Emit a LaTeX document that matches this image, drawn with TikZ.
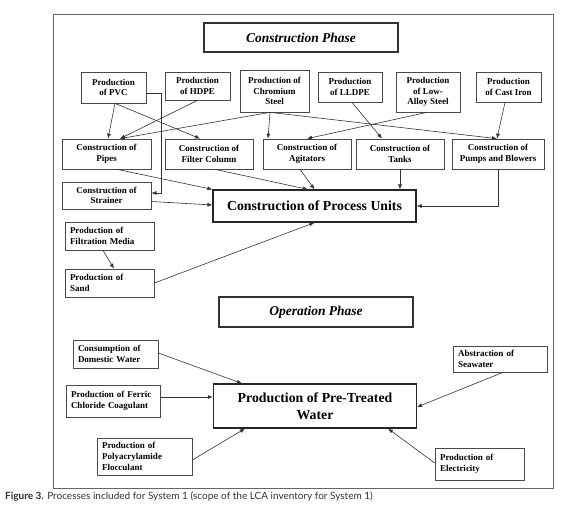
\documentclass[tikz,border=0pt]{standalone}
\usepackage{fontspec}
\setmainfont{Liberation Serif}
\newfontfamily\capfont{Lato}
\usetikzlibrary{arrows.meta,positioning,calc}
\definecolor{boxline}{HTML}{4A4A4A}
\definecolor{capgray}{HTML}{333333}

\begin{document}
\begin{tikzpicture}[
  x=1pt, y=-1pt,
  every node/.style={font=\fontsize{9}{10.7}\selectfont\bfseries},
  box/.style={draw=boxline, line width=0.7pt, inner sep=0pt, align=center},
  lbox/.style={draw=boxline, line width=0.7pt, inner xsep=5pt, inner ysep=0pt, align=left},
  phase/.style={draw=black!80, line width=1.2pt, inner sep=0pt, minimum width=194pt, minimum height=29pt, font=\fontsize{13.5}{16}\selectfont\bfseries\itshape},
  mainbox/.style={draw=black!85, line width=1.2pt, inner sep=0pt, minimum width=203pt, align=center, font=\fontsize{13.8}{17.5}\selectfont\bfseries},
  arrow/.style={-{Latex[length=5pt,width=4pt]}, line width=0.6pt, black!80}
]
\useasboundingbox (0,0) rectangle (580,510);
% ---------- Outer frame ----------
\draw[black!60, line width=0.7pt] (53,14) rectangle (553,488);

% ---------- Construction phase ----------
\node[phase] (cphase) at (301,37.5) {Construction Phase};
% raw materials
\node[box, minimum width=65pt, minimum height=31pt] (pvc) at (113.5,87.5) {Production\\of PVC};
\node[box, minimum width=65pt, minimum height=28pt] (hdpe) at (197.5,86) {Production\\of HDPE};
\node[box, minimum width=69pt, minimum height=42pt] (chrom) at (274.5,91) {Production of\\Chromium\\Steel};
\node[box, minimum width=64pt, minimum height=30pt] (lldpe) at (350,87) {Production\\of LLDPE};
\node[box, minimum width=64pt, minimum height=40pt] (lowalloy) at (428,92) {Production\\of Low-\\Alloy Steel};
\node[box, minimum width=65pt, minimum height=30pt] (castiron) at (508.5,87) {Production\\of Cast Iron};
% components
\node[box, minimum width=89pt, minimum height=30pt] (pipes) at (106.5,154) {Construction of\\Pipes};
\node[box, minimum width=88pt, minimum height=30pt] (filtercol) at (209,154) {Construction of\\Filter Column};
\node[box, minimum width=88pt, minimum height=30pt] (agit) at (307,154) {Construction of\\Agitators};
\node[box, minimum width=88pt, minimum height=30pt] (tanks) at (400,154) {Construction of\\Tanks};
\node[box, minimum width=92pt, minimum height=30pt] (pumps) at (498,154) {Construction of\\Pumps and Blowers};
\node[box, minimum width=89pt, minimum height=27pt] (strainer) at (106.5,195.5) {Construction of\\Strainer};
\node[mainbox, minimum height=32pt] (units) at (314.5,206) {Construction of Process Units};
% filter media
\node[lbox, text width=79pt, minimum height=28pt] (media) at (109.5,236) {Production of\\Filtration Media};
\node[lbox, text width=79pt, minimum height=28pt] (sand) at (109.5,283) {Production of\\Sand};

% ---------- Operation phase ----------
\node[phase, minimum height=30pt] (ophase) at (316,312) {Operation Phase};
\node[lbox, text width=75pt, minimum height=28pt] (domestic) at (115.5,354) {Consumption of\\Domestic Water};
\node[lbox, text width=84pt, minimum height=32pt] (ferric) at (113,401) {Production of Ferric\\Chloride Coagulant};
\node[lbox, text width=85pt, minimum height=37pt] (poly) at (144.5,456.5) {Production of\\Polyacrylamide\\Flocculant};
\node[mainbox, minimum height=44pt] (ptw) at (315,406) {Production of Pre-Treated\\Water};
\node[lbox, text width=84pt, minimum height=26pt] (seawater) at (500,359) {Abstraction of\\Seawater};
\node[lbox, text width=79pt, minimum height=32pt] (elec) at (479.5,464) {Production of\\Electricity};

% ---------- Construction edges ----------
\draw[arrow] ([xshift=1.5pt]pvc.south) -- ([xshift=1.5pt]pipes.north);
\draw[arrow] ([xshift=1.5pt]pvc.south) -- ([xshift=-9pt]filtercol.north);
\draw[arrow] ([yshift=-5.5pt]pvc.east) -- ++(15,0) |- ([yshift=2.5pt]strainer.east);
\draw[arrow] (hdpe.south) -- ([xshift=13.5pt]pipes.north);
\draw[arrow] ([xshift=-4.5pt]chrom.south) -- ([xshift=13.5pt]pipes.north);
\draw[arrow] ([xshift=-4.5pt]chrom.south) -- ([xshift=-39pt]agit.north);
\draw[arrow] ([xshift=-4.5pt]chrom.south) -- ([xshift=-1pt]pumps.north);
\draw[arrow] ([xshift=2pt]lldpe.south) -- ([xshift=-18pt]tanks.north);
\draw[arrow] ([xshift=-1pt]lowalloy.south) -- (agit.north);
\draw[arrow] ([xshift=-3.5pt]castiron.south) -- ([xshift=-1pt]pumps.north);
% components -> process units
\draw[arrow] ([xshift=10.5pt]pipes.south) -- (units.north west);
\draw[arrow] ([xshift=6pt]filtercol.south) -- ([xshift=-6.5pt]units.north);
\draw[arrow] ([xshift=-7pt]agit.south) -- (units.north);
\draw[arrow] (tanks.south) -- (tanks.south |- units.north);
\draw[arrow] (pumps.south) |- (units.east);
\draw[arrow] ([yshift=-6pt]strainer.east) -- ([yshift=1pt]units.west);
\draw[arrow] ([xshift=-6.5pt]media.south) -- ([xshift=4.5pt]sand.north);
\draw[arrow] (sand.east) -- (units.south);

% ---------- Operation edges ----------
\draw[arrow] ([yshift=1pt]domestic.east) -- ([xshift=-73pt]ptw.north);
\draw[arrow] ([yshift=4pt]ferric.east) -- ([yshift=9pt]ptw.west);
\draw[arrow] ([yshift=-3.5pt]poly.east) -- ([xshift=-70pt]ptw.south);
\draw[arrow] ([xshift=3pt]seawater.south) -- ([yshift=-1pt]ptw.east);
\draw[arrow] ([yshift=1pt]elec.west) -- ([xshift=73pt]ptw.south);

% ---------- Caption ----------
\node[anchor=west, font=\capfont\fontsize{10}{12}\selectfont, text=capgray, inner sep=0pt] (caption) at (5,496.5)
  {\textbf{Figure 3.} Processes included for System 1 (scope of the LCA inventory for System 1)};
\end{tikzpicture}
\end{document}
